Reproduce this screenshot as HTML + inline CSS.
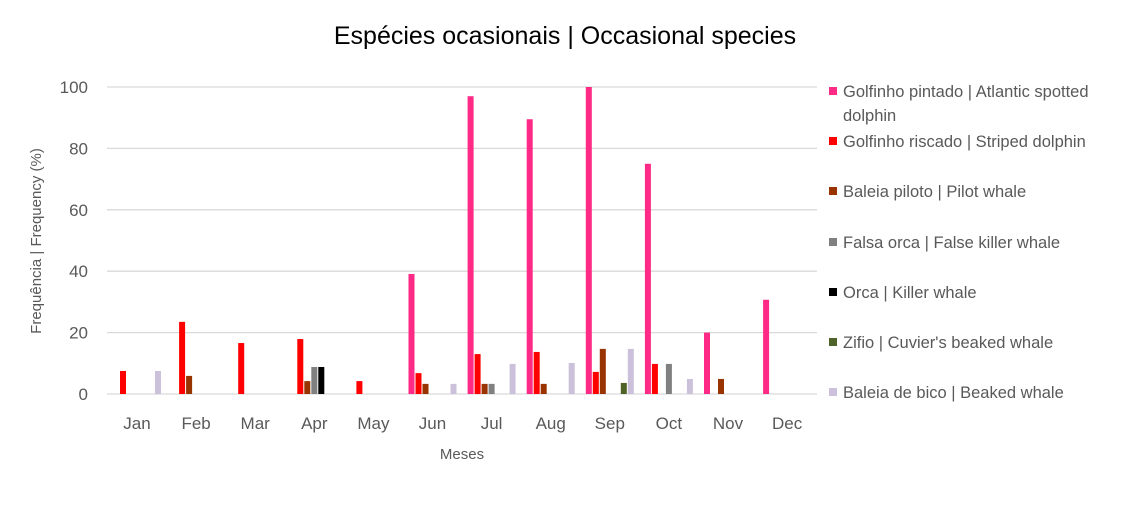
<!DOCTYPE html>
<html><head><meta charset="utf-8"><style>
body{margin:0;background:#fff;font-family:"Liberation Sans",sans-serif}
svg text{font-family:"Liberation Sans",sans-serif}
</style></head><body>
<svg id="c" width="1132" height="508">
<text x="565" y="44" text-anchor="middle" font-size="25" fill="#000">Espécies ocasionais | Occasional species</text>
<text transform="translate(41,241) rotate(-90)" text-anchor="middle" font-size="15" fill="#595959">Frequência | Frequency (%)</text>
<text x="462" y="459" text-anchor="middle" font-size="15" fill="#595959">Meses</text>
<g id="grid"></g><g id="bars"></g><g id="legend"></g>
</svg>
<script>
const months=["Jan","Feb","Mar","Apr","May","Jun","Jul","Aug","Sep","Oct","Nov","Dec"];
const seriesNames=["Golfinho pintado | Atlantic spotted dolphin","Golfinho riscado | Striped dolphin","Baleia piloto | Pilot whale","Falsa orca | False killer whale","Orca | Killer whale","Zifio | Cuvier's beaked whale","Baleia de bico | Beaked whale"];
const colors=["#ff2a85","#ff0000","#993300","#808080","#000000","#4f6228","#ccc1da"];
const pintado=[0,0,0,0,0,39.1,97,89.5,100,75,20,30.7];
const riscado=[7.5,23.5,16.6,17.9,4.2,6.8,13,13.7,7.2,9.8,0,0];
const piloto=[0,5.9,0,4.2,0,3.3,3.3,3.3,14.7,0,4.9,0];
const falsaOrca=[0,0,0,8.8,0,0,3.3,0,0,9.8,0,0];
const orca=[0,0,0,8.8,0,0,0,0,0,0,0,0];
const zifio=[0,0,0,0,0,0,0,0,3.6,0,0,0];
const bico=[7.5,0,0,0,0,3.3,9.8,10.1,14.7,4.9,0,0];
const yTicks=[0,20,40,60,80,100];
const series=[pintado,riscado,piloto,falsaOrca,orca,zifio,bico];
const NS="http://www.w3.org/2000/svg";
const y=v=>394-v*3.07;
const xc=i=>137+i*59.1;
function mk(t,a,p){const e=document.createElementNS(NS,t);for(const k in a)e.setAttribute(k,a[k]);p.appendChild(e);return e;}
const grid=document.getElementById('grid');
yTicks.forEach(t=>{
 const l=mk('line',{x1:107,x2:817,y1:y(t),y2:y(t),stroke:'#d9d9d9','stroke-width':1.3},grid);
 
 
 const tx=mk('text',{x:88,y:y(t)+6,'text-anchor':'end','font-size':17,fill:'#595959'},grid);
 tx.textContent=t;
 
 
});
months.forEach((m,i)=>{
 const tx=mk('text',{x:xc(i),y:429,'text-anchor':'middle','font-size':17,fill:'#595959'},grid);
 tx.textContent=m;
 
 
});
const bars=document.getElementById('bars');
series.forEach((s,si)=>{
 s.forEach((v,i)=>{
  if(v<=0)return;
  const r=mk('rect',{x:xc(i)-24+si*7,y:y(v),width:6,height:394-y(v),fill:colors[si]},bars);
  
  
 });
});
const lg=document.getElementById('legend');
const legY=[92,142,192,243,293,343,393];
seriesNames.forEach((n,si)=>{
 const g=mk('g',{},lg);
 
 
 mk('rect',{x:829,y:legY[si]-5,width:8,height:8,fill:colors[si]},g);
 const parts=si===0?["Golfinho pintado | Atlantic spotted","dolphin"]:[n];
 parts.forEach((p,k)=>{const t=mk('text',{x:843,y:legY[si]+5+k*24,'font-size':16.5,fill:'#595959'},g);t.textContent=p;});
});
</script>
</body></html>
